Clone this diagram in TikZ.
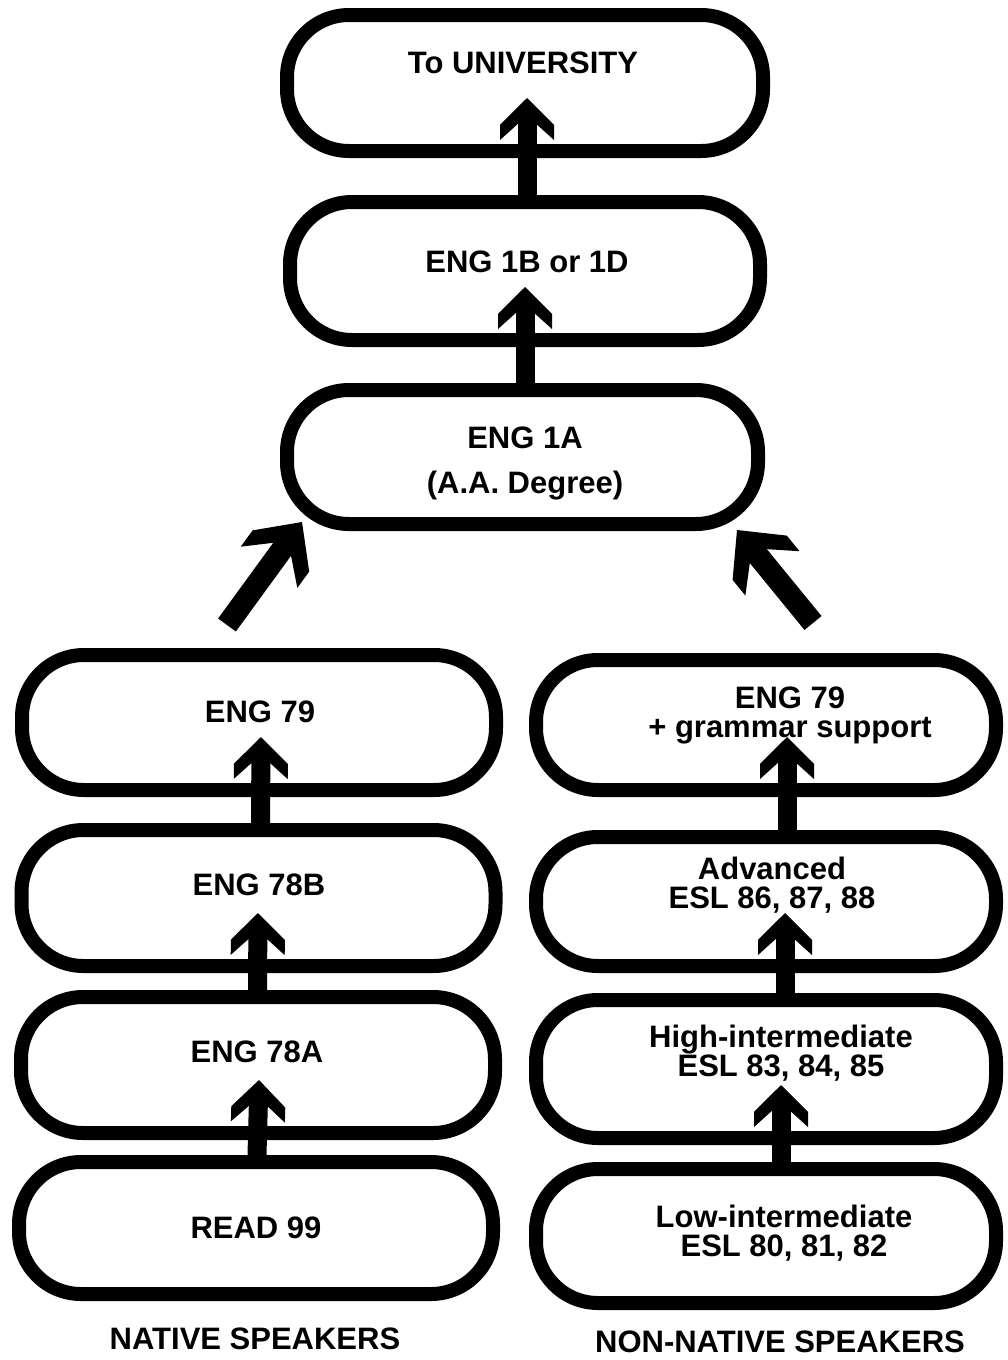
\documentclass[tikz,border=0pt]{standalone}
\usepackage{fontspec}
\setmainfont{Liberation Sans}
\usetikzlibrary{arrows.meta}
\pgfdeclarearrow{
  name = Chev,
  parameters = {\the\pgfarrowlength,\the\pgfarrowwidth},
  setup code = {
    \pgfarrowssettipend{0pt}
    \pgfarrowssetlineend{-.36\pgfarrowlength}
    \pgfarrowssetvisualbackend{-\pgfarrowlength}
    \pgfarrowssetbackend{-\pgfarrowlength}
    \pgfarrowssavethe\pgfarrowlength
    \pgfarrowssavethe\pgfarrowwidth
  },
  drawing code = {
    \pgfpathmoveto{\pgfqpoint{0pt}{0pt}}
    \pgfpathlineto{\pgfqpoint{-.64\pgfarrowlength}{.5\pgfarrowwidth}}
    \pgfpathlineto{\pgfqpoint{-\pgfarrowlength}{.5\pgfarrowwidth}}
    \pgfpathlineto{\pgfqpoint{-.42\pgfarrowlength}{0pt}}
    \pgfpathlineto{\pgfqpoint{-\pgfarrowlength}{-.5\pgfarrowwidth}}
    \pgfpathlineto{\pgfqpoint{-.64\pgfarrowlength}{-.5\pgfarrowwidth}}
    \pgfpathclose
    \pgfusepathqfill
  },
  defaults = {length=42pt, width=54pt}
}
\begin{document}
\begin{tikzpicture}[x=1pt,y=1pt,
  box/.style={draw=black, line width=14pt, rounded corners=62pt, inner sep=0pt},
  lcol/.style={box, minimum width=474pt},
  rcol/.style={box, minimum width=460pt},
  txt/.style={font=\fontsize{31}{29}\selectfont\bfseries, align=center, inner sep=0pt},
  varrow/.style={line width=19pt, -{Chev[length=42pt,width=54pt]}},
  darrow/.style={line width=22pt, -{Chev[length=56pt,width=70pt]}}]
\useasboundingbox (0,0) rectangle (1008,-1360);
\fill[white] (0,0) rectangle (1008,-1360);

% central boxes
\node[box, minimum width=476pt, minimum height=136pt] (uni) at (525,-83) {};
\node[box, minimum width=470pt, minimum height=138pt] (b1b) at (525,-271) {};
\node[box, minimum width=471pt, minimum height=134pt] (b1a) at (522.5,-457) {};

% native speakers column
\node[lcol, minimum height=135pt] (L79)  at (259,-722.5) {};
\node[lcol, minimum height=136pt] (L78B) at (258.5,-898) {};
\node[lcol, minimum height=136pt] (L78A) at (258,-1065) {};
\node[lcol, minimum height=132pt] (L99)  at (256,-1228) {};

% non-native speakers column
\node[rcol, minimum height=130pt] (R79)   at (766,-725) {};
\node[rcol, minimum height=129pt] (RAdv)  at (766,-901.5) {};
\node[rcol, minimum height=138pt] (RHigh) at (766,-1069) {};
\node[rcol, minimum height=134pt] (RLow)  at (766,-1236) {};

% texts
\node[txt] (uniT) at (523,-63) {To UNIVERSITY};
\node[txt] (b1bT) at (527,-262) {ENG 1B or 1D};
\node[txt, font=\fontsize{31}{45}\selectfont\bfseries] (b1aT) at (525,-463) {ENG 1A\\(A.A. Degree)};
\node[txt] (L79T)  at (260,-712) {ENG 79};
\node[txt] (L78BT) at (259,-885) {ENG 78B};
\node[txt] (L78AT) at (257,-1052) {ENG 78A};
\node[txt] (L99T)  at (256,-1228) {READ 99};
\node[txt] (R79T)   at (790,-715) {ENG 79\\+ grammar support};
\node[txt] (RAdvT)  at (772,-885) {Advanced\\ESL 86, 87, 88};
\node[txt] (RHighT) at (781,-1053) {High-intermediate\\ESL 83, 84, 85};
\node[txt] (RLowT)  at (784,-1233) {Low-intermediate\\ESL 80, 81, 82};
\node[txt] (natT) at (255,-1339) {NATIVE SPEAKERS};
\node[txt] (nnatT) at (780,-1342) {NON-NATIVE SPEAKERS};

% vertical arrows
\draw[varrow] ([xshift=2pt]b1b.north) -- ([xshift=2pt,yshift=60pt]uni.south);
\draw[varrow] ([xshift=2.5pt]b1a.north) -- ([xshift=0pt,yshift=60pt]b1b.south);
\draw[varrow] ([xshift=2pt]L78B.north) -- ([xshift=2pt,yshift=60pt]L79.south);
\draw[varrow] ([xshift=-0.5pt]L78A.north) -- ([xshift=-0.5pt,yshift=60pt]L78B.south);
\draw[varrow] ([xshift=1pt]L99.north) -- ([xshift=1pt,yshift=60pt]L78A.south);
\draw[varrow] ([xshift=21pt]RAdv.north) -- ([xshift=21pt,yshift=60pt]R79.south);
\draw[varrow] ([xshift=19pt]RHigh.north) -- ([xshift=19pt,yshift=60pt]RAdv.south);
\draw[varrow] ([xshift=15pt]RLow.north) -- ([xshift=15pt,yshift=60pt]RHigh.south);

% diagonal arrows
\coordinate (lTail) at (227,-625);
\coordinate (lTip) at (302,-522);
\coordinate (rTail) at (813,-623);
\coordinate (rTip) at (737,-530);
\draw[darrow] (lTail) -- (lTip);
\draw[darrow] (rTail) -- (rTip);
\end{tikzpicture}
\end{document}
